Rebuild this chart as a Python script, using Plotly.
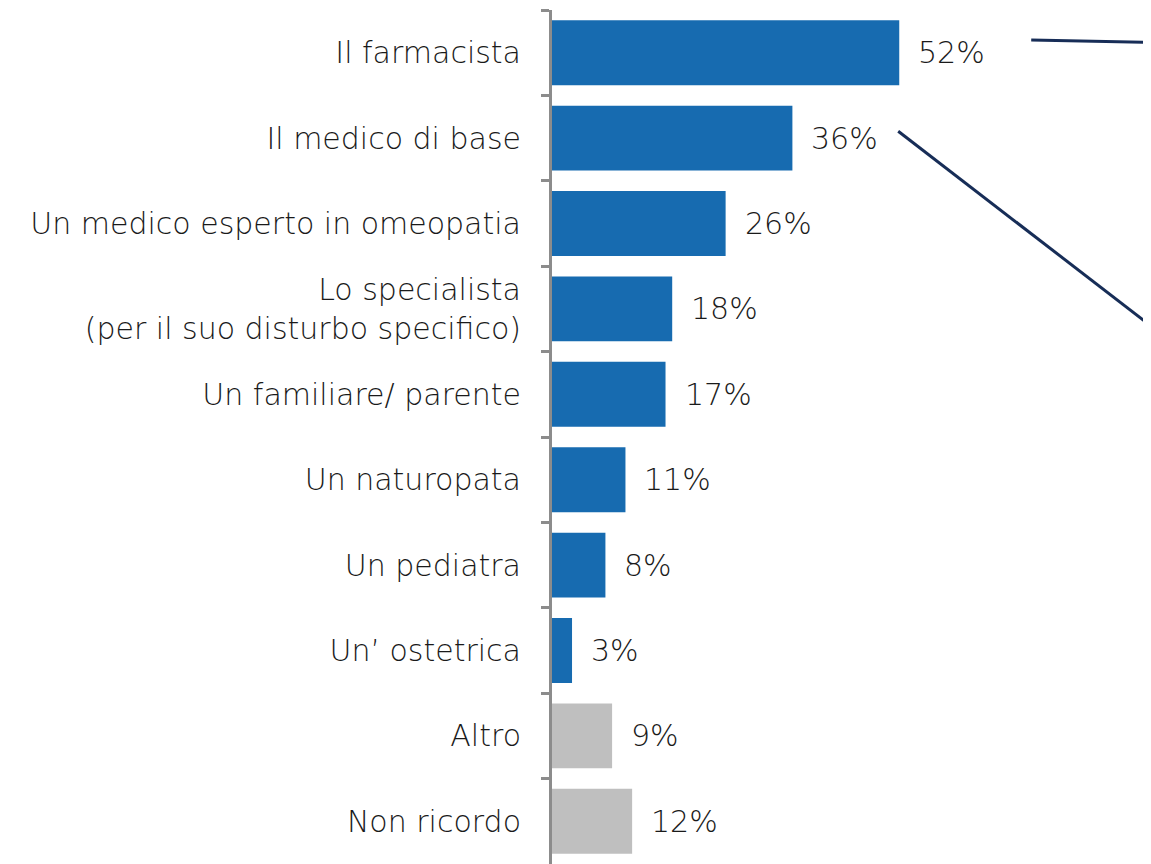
import plotly.graph_objects as go

categories = [
    "Il farmacista",
    "Il medico di base",
    "Un medico esperto in omeopatia",
    "Lo specialista<br>(per il suo disturbo specifico)",
    "Un familiare/ parente",
    "Un naturopata",
    "Un pediatra",
    "Un’ ostetrica",
    "Altro",
    "Non ricordo",
]
values = [52, 36, 26, 18, 17, 11, 8, 3, 9, 12]
labels = ["52%", "36%", "26%", "18%", "17%", "11%", "8%", "3%", "9%", "12%"]
groups = ["main"] * 8 + ["other"] * 2

BLUE = "#176bb0"
GREY = "#bfbfbf"
NAVY = "#172d57"
FONT = "DejaVu Sans"

colors = [BLUE if g == "main" else GREY for g in groups]

fig = go.Figure()
fig.add_trace(go.Bar(
    x=values, y=categories, orientation="h",
    marker=dict(color=colors, line=dict(width=0)),
    width=0.76,
    hoverinfo="skip",
))

for cat, val, lab in zip(categories, values, labels):
    fig.add_annotation(
        x=val, y=cat, text=lab, showarrow=False,
        xanchor="left", xshift=17,
        font=dict(family=FONT, size=30, color="#1a1a1a", weight=300),
    )

# connector lines towards the panel on the right
fig.add_shape(type="line", xref="paper", yref="paper",
              x0=0.80, y0=0.965, x1=1.0, y1=0.962,
              line=dict(color=NAVY, width=3))
fig.add_shape(type="line", xref="paper", yref="paper",
              x0=0.578, y0=0.858, x1=1.0, y1=0.630,
              line=dict(color=NAVY, width=3))

# page body adds an 8px offset, so the figure is 8px smaller
fig.update_layout(
    width=1143, height=856,
    margin=dict(l=544, r=0, t=2, b=0, autoexpand=False),
    plot_bgcolor="white", paper_bgcolor="white",
    showlegend=False,
    font=dict(family=FONT, size=30, color="#1a1a1a", weight=300),
    xaxis=dict(range=[0, 89.7], visible=False, fixedrange=True, automargin=False),
    yaxis=dict(
        autorange="reversed",
        type="category",
        automargin=False,
        tickson="boundaries",
        ticks="outside", ticklen=8, tickwidth=3, tickcolor="#8c8c8c",
        showline=True, linecolor="#8c8c8c", linewidth=3,
        showgrid=False, zeroline=False,
        ticklabelstandoff=22,
        tickfont=dict(family=FONT, size=30, color="#1a1a1a", weight=300),
    ),
)

fig.write_html("out.html")
